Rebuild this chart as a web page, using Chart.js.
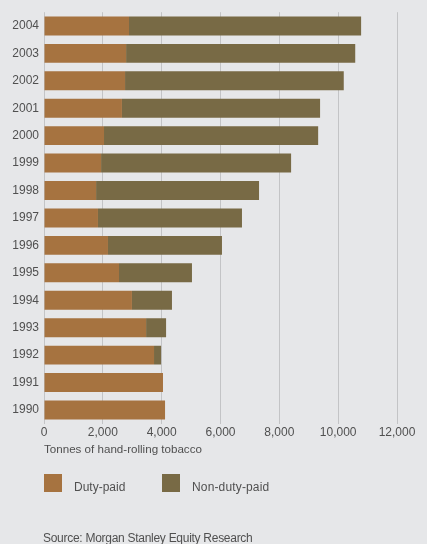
<!DOCTYPE html>
<html>
<head>
<meta charset="utf-8">
<script src="https://cdn.jsdelivr.net/npm/chart.js@4.4.1/dist/chart.umd.min.js"></script>
<style>
  html, body { margin: 0; padding: 0; background: #e6e7e9; }
  body { width: 427px; height: 544px; position: relative; overflow: hidden;
         font-family: "Liberation Sans", Arial, sans-serif; color: #505050; }
  #wrap { position: absolute; left: 0; top: 0; width: 427px; height: 544px; }
  .sw { position: absolute; width: 18px; height: 18px; }
  .lt { position: absolute; font-size: 12px; line-height: 14px; white-space: nowrap; }
</style>
</head>
<body>
<div id="wrap"><canvas id="c" width="427" height="544"></canvas></div>
<div class="sw" id="sw1" style="left:44px; top:474px;"></div>
<div class="lt" id="lt1" style="left:74px; top:480px;"></div>
<div class="sw" id="sw2" style="left:162px; top:474px;"></div>
<div class="lt" id="lt2" style="left:192px; top:480px; letter-spacing:0.15px;"></div>
<div class="lt" id="src" style="left:43px; top:531px; letter-spacing:-0.28px;"></div>
<script>
const years = ['2004','2003','2002','2001','2000','1999','1998','1997','1996','1995','1994','1993','1992','1991','1990'];
const dutyPaid =    [2890, 2790, 2755, 2650, 2040, 1940, 1770, 1835, 2175, 2550, 2990, 3470, 3740, 4045, 4115];
const nonDutyPaid = [7890, 7790, 7435, 6735, 7280, 6460, 5540, 4895, 3875, 2480, 1360,  680,  240,    0,    0];
const seriesNames = ['Duty-paid', 'Non-duty-paid'];
const xTicks = [0, 2000, 4000, 6000, 8000, 10000, 12000];
const axisTitle = 'Tonnes of hand-rolling tobacco';
const sourceText = 'Source: Morgan Stanley Equity Research';

const colors = ['#a67340', '#786a45'];
const textColor = '#505050';
const fontFamily = '"Liberation Sans", Arial, sans-serif';

document.getElementById('sw1').style.background = colors[0];
document.getElementById('sw2').style.background = colors[1];
document.getElementById('lt1').textContent = seriesNames[0];
document.getElementById('lt2').textContent = seriesNames[1];
document.getElementById('src').textContent = sourceText;

new Chart(document.getElementById('c'), {
  type: 'bar',
  data: {
    labels: years,
    datasets: [
      { label: seriesNames[0], data: dutyPaid, backgroundColor: colors[0], borderWidth: 0,
        barPercentage: 0.69, categoryPercentage: 1 },
      { label: seriesNames[1], data: nonDutyPaid, backgroundColor: colors[1], borderWidth: 0,
        barPercentage: 0.69, categoryPercentage: 1 }
    ]
  },
  options: {
    indexAxis: 'y',
    responsive: false,
    animation: false,
    devicePixelRatio: 1,
    layout: { padding: { left: 7, right: 30, top: 10, bottom: 86 } },
    plugins: { legend: { display: false }, tooltip: { enabled: false } },
    scales: {
      x: {
        stacked: true,
        min: 0, max: 12000,
        afterBuildTicks: (scale) => { scale.ticks = xTicks.map(v => ({ value: v })); },
        grid: { color: '#c3c4c6', lineWidth: 1, drawTicks: false },
        border: { display: false },
        ticks: {
          padding: 2,
          color: textColor,
          font: { family: fontFamily, size: 12 },
          callback: (v) => Number(v).toLocaleString('en-US')
        },
        title: {
          display: true, text: axisTitle, align: 'start',
          color: textColor, font: { family: fontFamily, size: 11.6 },
          padding: { top: 1, bottom: 1 }
        }
      },
      y: {
        stacked: true,
        grid: { display: false, drawTicks: false },
        border: { display: false },
        afterFit: (scale) => { scale.width = 37; },
        ticks: {
          padding: 5,
          color: textColor,
          font: { family: fontFamily, size: 12 }
        }
      }
    }
  }
});
</script>
</body>
</html>
